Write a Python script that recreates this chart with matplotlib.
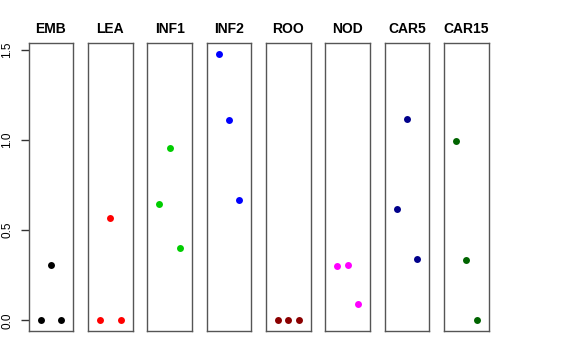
import matplotlib
matplotlib.use("Agg")
import matplotlib.pyplot as plt

tissues = ["EMB", "LEA", "INF1", "INF2", "ROO", "NOD", "CAR5", "CAR15"]
colors = ["#000000", "#FF0000", "#00CD00", "#0000FF", "#8B0000", "#FF00FF", "#00008B", "#006400"]
values = {
    "EMB": [0.0, 0.305, 0.0],
    "LEA": [0.0, 0.570, 0.0],
    "INF1": [0.648, 0.954, 0.404],
    "INF2": [1.480, 1.113, 0.668],
    "ROO": [0.0, 0.0, 0.0],
    "NOD": [0.300, 0.306, 0.093],
    "CAR5": [0.620, 1.115, 0.343],
    "CAR15": [0.998, 0.337, 0.0],
}
reps = [1, 2, 3]
yticks = [0.0, 0.5, 1.0, 1.5]
ytick_labels = ["0.0", "0.5", "1.0", "1.5"]

plt.rcParams['font.family'] = ['Liberation Sans', 'DejaVu Sans']
fig = plt.figure(figsize=(5.76, 3.6), dpi=100)
W, H = 576, 360
ymax = 1.48
ylim = (-0.04 * ymax, 1.04 * ymax)
for i, (t, c) in enumerate(zip(tissues, colors)):
    left = 28.7 + 59.33 * i
    ax = fig.add_axes([left / W, 1 - 331 / H, 44.6 / W, 288 / H])
    ax.plot(reps, values[t], 'o', color=c, markersize=5, markeredgewidth=0)
    ax.set_xlim(-0.16, 4.16)
    ax.set_ylim(*ylim)
    ax.set_xticks([])
    for s in ax.spines.values():
        s.set_color('#555555')
        s.set_linewidth(1.0)
    ax.set_title(t, fontsize=10, fontweight='bold', pad=7)
    if i == 0:
        ax.set_yticks(yticks)
        ax.set_yticklabels(ytick_labels, rotation=90, va='center', fontsize=8.5)
        ax.tick_params(axis='y', length=5.8, width=1.0, color='#333333', pad=5.5)
    else:
        ax.set_yticks([])

fig.savefig("out.png", dpi=100)
